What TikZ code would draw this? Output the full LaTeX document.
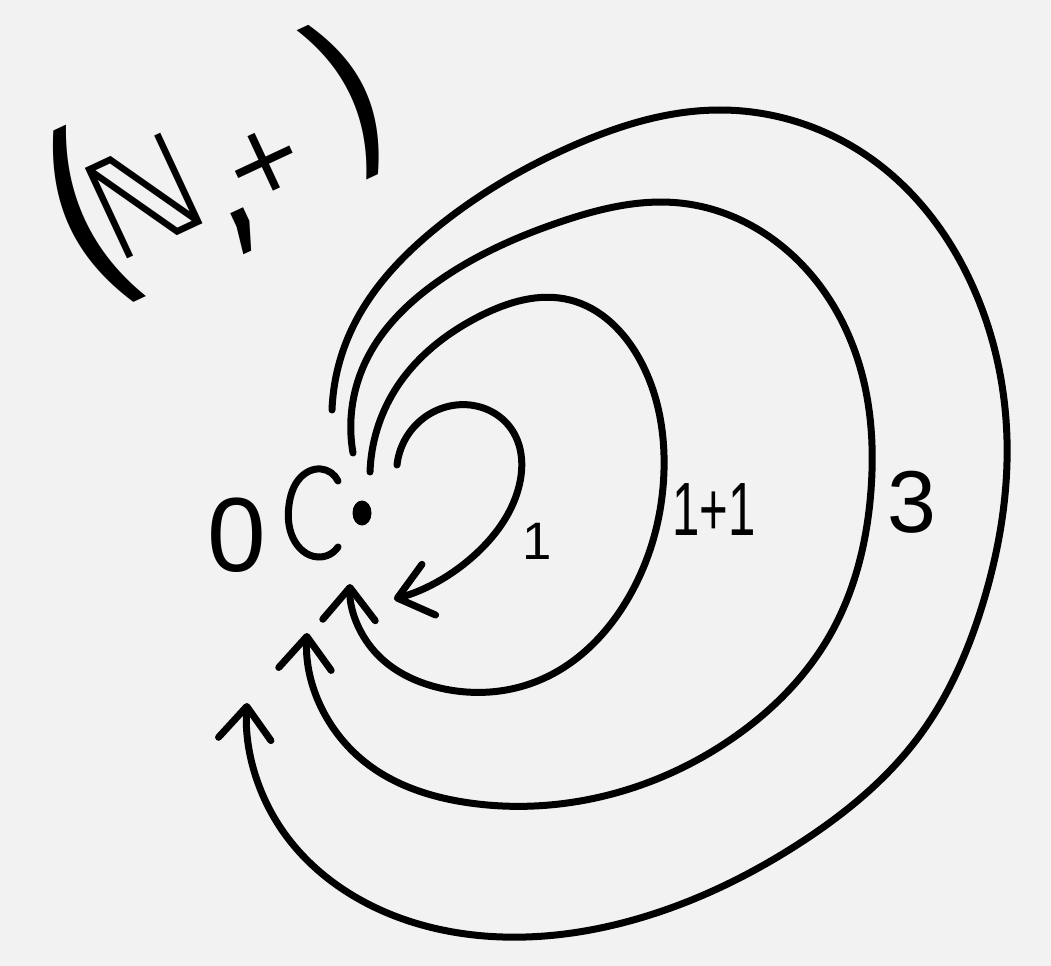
\documentclass[tikz,border=0pt]{standalone}
\usepackage{fontspec}
\setmainfont{Liberation Sans}
\newfontfamily\dvs{DejaVu Sans}
\usetikzlibrary{arrows.meta,shapes.geometric,hobby}
\definecolor{bg}{HTML}{F2F2F2}
\newcommand{\lparen}{\raisebox{-0.1em}{\scalebox{1.3}[1.55]{(}}}
\newcommand{\rparen}{\raisebox{-0.037em}{\scalebox{1.2}[1.35]{)}}}
\begin{document}
\begin{tikzpicture}[x=0.02cm,y=-0.02cm,
  ink/.style={line width=0.14cm, line cap=round, line join=round},
  arr/.style={ink, -{Straight Barb[length=0.65cm,width=1.05cm,round]}},
  lbl/.style={inner sep=0pt}]
\fill[bg] (0,0) rectangle (1051,966);
\useasboundingbox (0,0) rectangle (1051,966);

% title
\node[lbl, anchor=base west, rotate=25, font=\dvs\fontsize{78}{78}\selectfont] (title) at (78,282)
  {\lparen\kern-0.204em ℕ\raisebox{-0.18em}{\scalebox{1}[1.3]{,}}\kern-0.12em\scalebox{0.7}{+}\kern0.236em\rparen};

% object and identity loop
\node[ellipse, fill=black, inner sep=0pt, minimum width=0.38cm, minimum height=0.5cm] (obj) at (362,513) {};
\node[lbl, font=\fontsize{60}{60}\selectfont] (zero) at (237,535) {0};
\coordinate (lps) at (338,481);
\coordinate (lpe) at (338,547);
\draw[ink] (lps) to[curve through={(321,469) .. (300,478) .. (289,505) .. (293,538) .. (318,557)}] (lpe);

% labels
\node[lbl, font=\fontsize{30}{30}\selectfont] (l1) at (537,541) {1};
\node[lbl, font=\fontsize{43}{43}\selectfont] (l2) at (714,510) {\scalebox{0.65}[1]{1+1}};
\node[lbl, font=\fontsize{50}{50}\selectfont] (l3) at (912,502) {3};

% arc 1
\coordinate (s1) at (397,465);
\coordinate (e1) at (394,599);
\draw[arr] (s1) to[curve through={(420,421) .. (470,405) .. (512,430) .. (518,490) .. (480,550)}] (e1);

% arc 2
\coordinate (s2) at (370,472);
\coordinate (e2) at (350,584);
\draw[arr] (s2) to[curve through={(395,390) .. (480,316) .. (570,300) .. (640,360) .. (664,470) .. (630,595) .. (540,680) .. (440,688) .. (375,652)}] (e2);

% arc 3
\coordinate (s3) at (353,453);
\coordinate (e3) at (307,633);
\draw[arr] (s3) to[curve through={(364,365) .. (440,280) .. (560,222) .. (680,203) .. (790,253) .. (860,367) .. (871,490) .. (830,635) .. (730,740) .. (600,797) .. (470,803) .. (360,758)}] (e3);

% arc 4
\coordinate (s4) at (332,410);
\coordinate (e4) at (247,703);
\draw[arr] (s4) to[curve through={(350,333) .. (440,225) .. (570,147) .. (720,110) .. (873,160) .. (973,287) .. (1007,440) .. (983,603) .. (920,735) .. (800,843) .. (650,915) .. (503,937) .. (370,905) .. (280,827)}] (e4);
\end{tikzpicture}
\end{document}
